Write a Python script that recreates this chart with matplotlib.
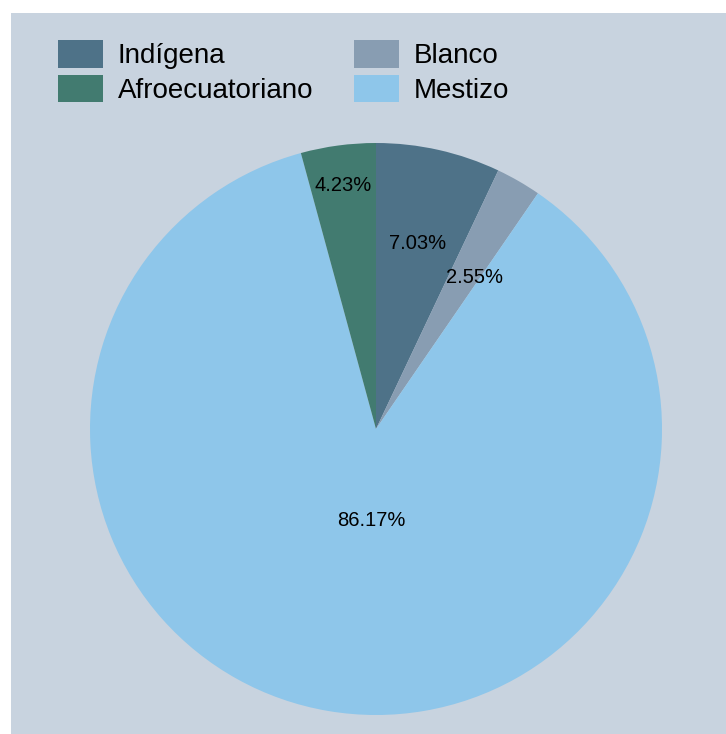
import matplotlib
matplotlib.use("Agg")
import matplotlib.pyplot as plt
from matplotlib.patches import Rectangle, Patch
import numpy as np

plt.rcParams['font.family'] = ['Liberation Sans', 'DejaVu Sans']

categories = ["Indígena", "Blanco", "Mestizo", "Afroecuatoriano"]
shares = [7.03, 2.55, 86.17, 4.23]
colors = ["#4e7288", "#889db2", "#8ec6ea", "#427b70"]
# label placement per slice: radial fraction and angular nudge (degrees, counter-clockwise)
label_radius = [0.665, 0.633, 0.32, 0.86]
label_nudge = [0.0, -3.0, 7.0, 0.0]
legend_order = ["Indígena", "Afroecuatoriano", "Blanco", "Mestizo"]

W, H = 726, 734
fig = plt.figure(figsize=(W / 100, H / 100), dpi=100)
fig.patch.set_facecolor("white")
fig.add_artist(Rectangle((11 / W, 0), 1 - 11 / W, 1 - 13 / H,
                         transform=fig.transFigure, facecolor="#c8d3df",
                         edgecolor="none", zorder=0))

cx, cy, r = 376, 429, 286
ax = fig.add_axes([(cx - r) / W, (H - cy - r) / H, 2 * r / W, 2 * r / H])
ax.set_facecolor("none")
wedges, _ = ax.pie(shares, colors=colors, startangle=90, counterclock=False,
                   radius=1.0, wedgeprops=dict(linewidth=0))
for w, val, lr, nd in zip(wedges, shares, label_radius, label_nudge):
    mid = np.deg2rad((w.theta1 + w.theta2) / 2 + nd)
    ax.text(lr * np.cos(mid), lr * np.sin(mid), f"{val:.2f}%",
            ha="center", va="center", fontsize=14.5, color="black")
ax.set_xlim(-1, 1)
ax.set_ylim(-1, 1)
ax.set_aspect("equal")
ax.axis("off")

color_of = dict(zip(categories, colors))
handles = [Patch(facecolor=color_of[c], edgecolor="none", label=c) for c in legend_order]
fig.legend(handles=handles, ncol=2, loc="upper left",
           bbox_to_anchor=(58 / W, 1 - 40 / H), frameon=False,
           fontsize=20, handlelength=1.62, handleheight=1.15,
           handletextpad=0.54, columnspacing=1.45, labelspacing=0.2,
           borderpad=0, borderaxespad=0)

fig.savefig("out.png", dpi=100)
